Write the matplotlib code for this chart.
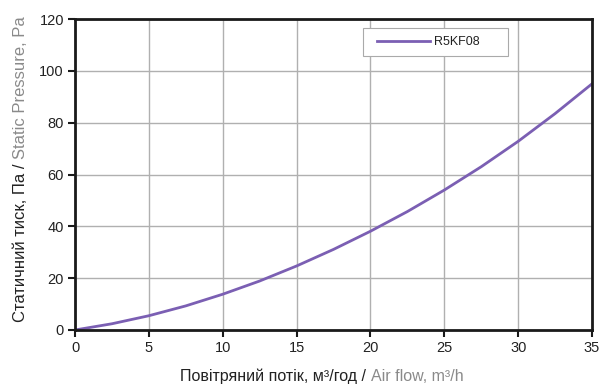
import matplotlib
matplotlib.use("Agg")
import matplotlib.pyplot as plt
from matplotlib.patches import Rectangle

plt.rcParams['font.family'] = ['Liberation Sans', 'DejaVu Sans']

# airflow, m3/h and static pressure, Pa
airflow = [0, 2.5, 5, 7.5, 10, 12.5, 15, 17.5, 20, 22.5, 25, 27.5, 30, 32.5, 35]
pressure = [0, 2.4, 5.5, 9.3, 13.8, 18.9, 24.7, 31.1, 38.1, 45.7, 54, 63, 72.8, 83.5, 95]
series_name = "R5KF08"

x_ticks = [0, 5, 10, 15, 20, 25, 30, 35]
y_ticks = [0, 20, 40, 60, 80, 100, 120]

xlabel_ua = "Повітряний потік, м³/год / "
xlabel_en = "Air flow, m³/h"
ylabel_ua = "Статичний тиск, Па / "
ylabel_en = "Static Pressure, Pa"

dark = "#222222"
grey = "#8a8a8a"
purple = "#7b5fb3"

fig = plt.figure(figsize=(6.03, 3.85), dpi=100)
ax = fig.add_axes([0.1244, 0.1429, 0.8574, 0.8077])

ax.plot(airflow, pressure, color=purple, lw=2, label=series_name)
ax.set_xlim(0, 35)
ax.set_ylim(0, 120)
ax.set_xticks(x_ticks)
ax.set_yticks(y_ticks)
ax.grid(True, color="#b0b0b0", lw=1)
ax.set_axisbelow(True)
for s in ax.spines.values():
    s.set_color("#1a1a1a")
    s.set_linewidth(2)
ax.tick_params(direction="out", length=5, width=1.5, color="#1a1a1a",
               labelsize=10.5, labelcolor=dark, pad=3)

# legend: frame drawn by hand so the padding matches the original
ax.add_patch(Rectangle((0.557, 0.881), 0.2805, 0.09, transform=ax.transAxes,
                       facecolor="white", edgecolor="#aaaaaa", lw=0.8, zorder=4))
leg = ax.legend(loc="center left", bbox_to_anchor=(0.584, 0.926), fontsize=9,
                frameon=False, borderpad=0, borderaxespad=0,
                handlelength=4.25, handletextpad=0.3)
leg.set_zorder(5)
for t in leg.get_texts():
    t.set_color(dark)

# two-coloured axis labels
fig.canvas.draw()
r = fig.canvas.get_renderer()

def extent_of(txt, **kw):
    t = fig.text(0, 0, txt, **kw)
    bb = t.get_window_extent(r)
    t.remove()
    return bb

fsx = 11.5
bx1 = extent_of(xlabel_ua, fontsize=fsx)
bx2 = extent_of(xlabel_en, fontsize=fsx)
cx = 322
split = cx - (bx1.width + bx2.width) / 2.0 + bx1.width
yx = 4
fig.text(split / 603, yx / 385, xlabel_ua, fontsize=fsx, color=dark, ha="right", va="baseline")
fig.text(split / 603, yx / 385, xlabel_en, fontsize=fsx, color=grey, ha="left", va="baseline")

fsy = 12
by1 = extent_of(ylabel_ua, fontsize=fsy, rotation=90)
by2 = extent_of(ylabel_en, fontsize=fsy, rotation=90)
cy = 216
splity = cy - (by1.height + by2.height) / 2.0 + by1.height
xy = 25
fig.text(xy / 603, splity / 385, ylabel_ua, fontsize=fsy, color=dark, rotation=90,
         ha="right", va="baseline", rotation_mode="anchor")
fig.text(xy / 603, splity / 385, ylabel_en, fontsize=fsy, color=grey, rotation=90,
         ha="left", va="baseline", rotation_mode="anchor")

fig.savefig("out.png", dpi=100)
